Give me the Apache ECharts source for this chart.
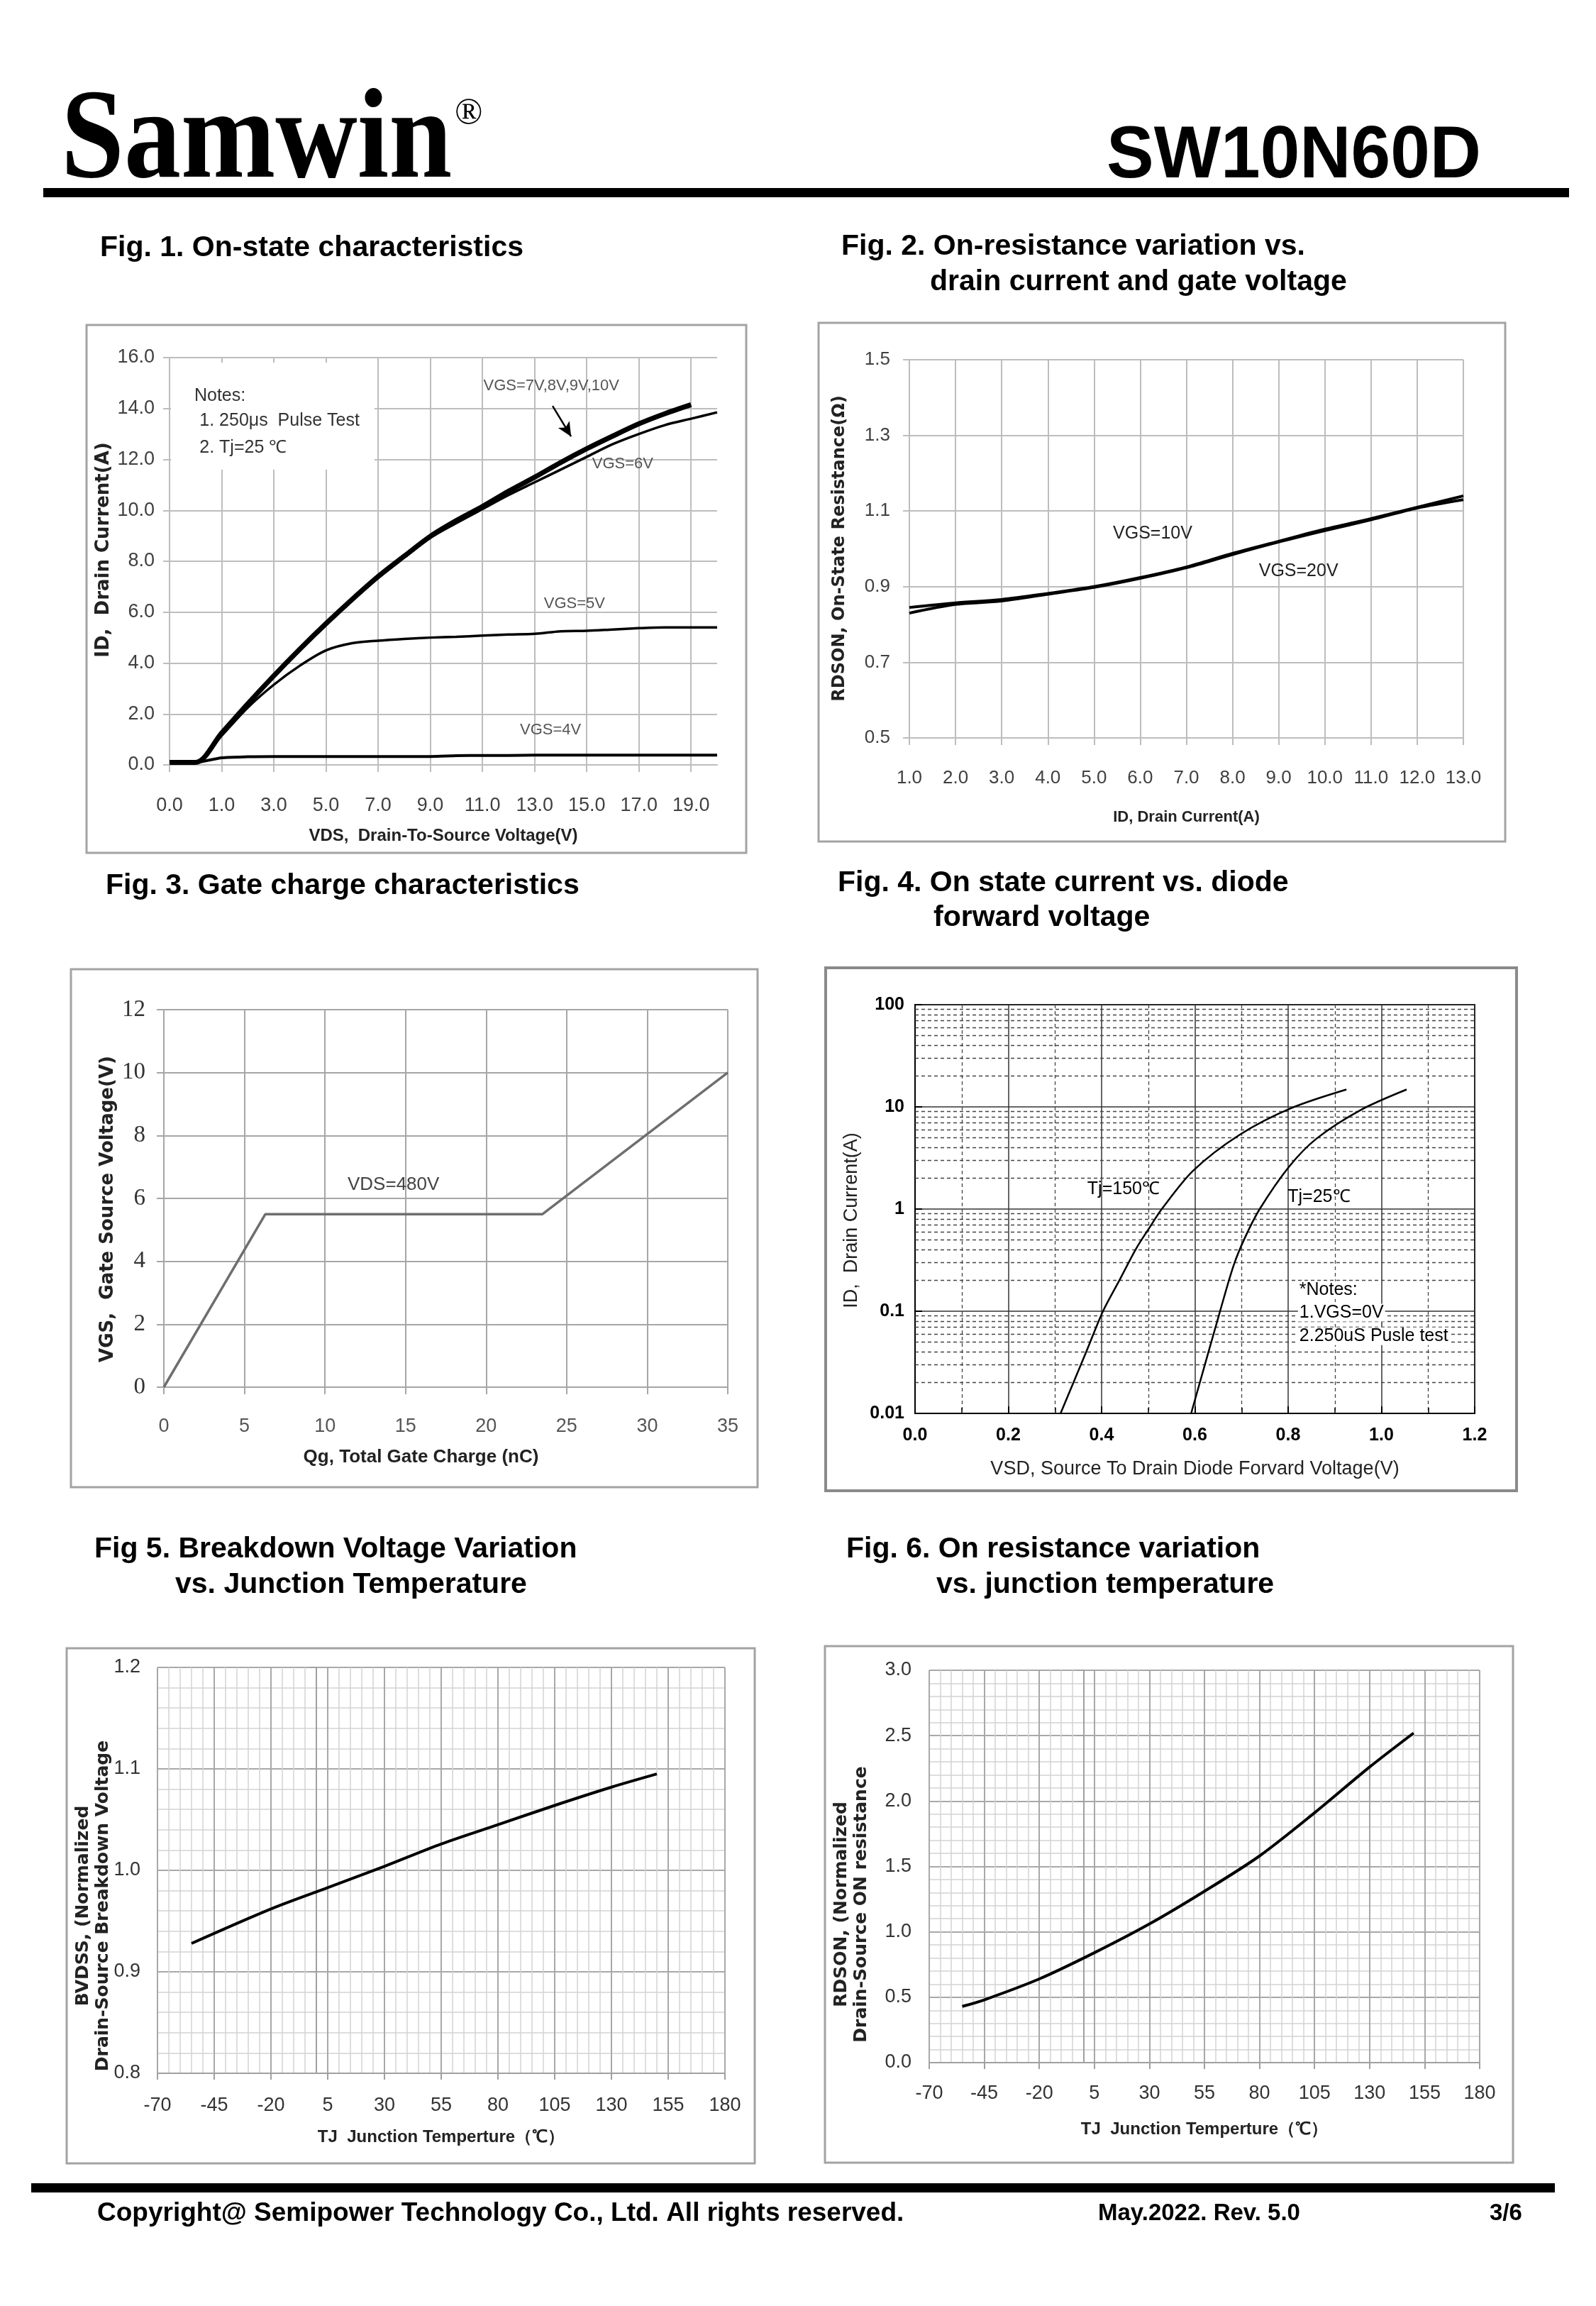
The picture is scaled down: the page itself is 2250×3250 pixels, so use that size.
<!DOCTYPE html>
<html><head><meta charset="utf-8">
<script src="https://cdn.jsdelivr.net/npm/echarts@6/dist/echarts.min.js"></script>
<style>html,body{margin:0;padding:0;background:#fff}#c{width:2250px;height:3250px}</style>
</head><body><div id="c"></div>
<script>
// ---------- DATA ----------
// Fig 1: categories of VDS (Excel-style category axis)
const fig1Vds = ['0.0','0.5','1.0','2.0','3.0','4.0','5.0','6.0','7.0','8.0','9.0','10.0','11.0','12.0','13.0','14.0','15.0','16.0','17.0','18.0','19.0','20.0'];
const fig1IdVgs7to10 = [0.1,0.1,1.25,2.4,3.5,4.55,5.55,6.5,7.4,8.2,8.98,9.6,10.15,10.75,11.3,11.88,12.42,12.92,13.4,13.8,14.15];
const fig1IdVgs6 = [0.1,0.1,1.2,2.35,3.45,4.5,5.5,6.45,7.35,8.15,8.92,9.5,10.05,10.6,11.1,11.6,12.1,12.6,13.0,13.35,13.6,13.85];
const fig1IdVgs5 = [0.1,0.1,1.15,2.25,3.15,3.9,4.5,4.78,4.88,4.95,5.0,5.03,5.08,5.12,5.15,5.25,5.27,5.32,5.37,5.4,5.4,5.4];
const fig1IdVgs4 = [0.1,0.1,0.28,0.32,0.33,0.33,0.33,0.33,0.33,0.33,0.33,0.36,0.37,0.37,0.38,0.38,0.38,0.38,0.38,0.38,0.38,0.38];
const fig1YRange = [0, 16, 2];

// Fig 2
const fig2Id = [1,2,3,4,5,6,7,8,9,10,11,12,13];
const fig2RdsVgs10 = [0.845,0.857,0.866,0.882,0.9,0.924,0.952,0.988,1.02,1.052,1.08,1.11,1.14];
const fig2RdsVgs20 = [0.83,0.853,0.862,0.88,0.898,0.922,0.95,0.985,1.018,1.048,1.077,1.108,1.13];

// Fig 3
const fig3Qg = [0, 6.3, 23.5, 35];
const fig3Vgs = [0, 5.5, 5.5, 10];

// Fig 4
const fig4Vsd150 = [0.312,0.368,0.403,0.438,0.474,0.502,0.529,0.596,0.695,0.806,0.925];
const fig4Id150  = [0.01,0.041,0.1,0.2,0.41,0.65,1.0,2.37,5.3,9.7,14.8];
const fig4Vsd25  = [0.592,0.654,0.683,0.707,0.739,0.802,0.861,0.955,1.054];
const fig4Id25   = [0.01,0.1,0.28,0.52,1.0,2.6,4.9,9.3,14.8];
const fig4MinorY = [0.02,0.03,0.04,0.05,0.06,0.07,0.08,0.09,0.2,0.3,0.4,0.5,0.6,0.7,0.8,0.9,2,3,4,5,6,7,8,9,20,30,40,50,60,70,80,90];

// Fig 5
const fig5Tj = [-55,-20,5,30,55,80,105,130,150];
const fig5Bv = [0.928,0.962,0.983,1.004,1.026,1.045,1.064,1.082,1.095];

// Fig 6
const fig6Tj = [-55,-45,-20,5,30,55,80,105,130,150];
const fig6Rds = [0.43,0.48,0.64,0.84,1.06,1.31,1.58,1.91,2.26,2.52];

// ---------- STYLE ----------
const SANS = '"Liberation Sans", Arial, sans-serif';
const SERIF = '"Liberation Serif", "Times New Roman", serif';
const DEJA = '"DejaVu Sans", Verdana, sans-serif';
const GRID_GRAY = '#bdbdbd';

function pair(xs, ys) { return xs.map((x, i) => [x, ys[i]]); }
function T(x, y, text, font, o) {
  o = o || {};
  const align = o.align || 'left';
  return {
    type: 'text', x: x, y: y, silent: true, z: o.z || 10,
    rotation: o.rotation || 0, scaleX: o.scaleX || 1, scaleY: o.scaleY || 1,
    style: { text: text, font: font, fill: o.fill || '#000',
      align: align, textAlign: align, verticalAlign: 'middle', textVerticalAlign: 'middle',
      lineHeight: o.lineHeight }
  };
}
function R(x, y, w, h, stroke, lw) {
  return { type: 'rect', silent: true, z: 1, shape: { x: x, y: y, width: w, height: h },
    style: { fill: 'none', stroke: stroke, lineWidth: lw } };
}
function B(x, y, w, h) {
  return { type: 'rect', silent: true, z: 1, shape: { x: x, y: y, width: w, height: h }, style: { fill: '#000' } };
}
function label(coord, text, font, color, pos) {
  return { coord: coord, name: text, symbol: 'circle', symbolSize: 0,
    label: { show: true, position: pos || 'inside', distance: 0, formatter: '{b}',
      fontFamily: font.family, fontSize: font.size, fontWeight: font.weight || 'normal', color: color || '#333',
      backgroundColor: font.bg || 'transparent', padding: font.bg ? [0, 2] : 0 } };
}
const VT = (x, y, text, font, fill) => T(x, y, text, font, { align: 'center', rotation: Math.PI / 2, lineHeight: 28, fill: fill || '#222' });

const chart = echarts.init(document.getElementById('c'), null, { renderer: 'canvas', width: 2250, height: 3250 });

const option = {
  backgroundColor: '#fff',
  animation: false,
  grid: [
    { left: 239, top: 504, width: 772, height: 574 },
    { left: 1282, top: 507, width: 781, height: 533 },
    { left: 231, top: 1423, width: 795, height: 532 },
    { left: 1290, top: 1416, width: 789, height: 576, show: true, borderColor: '#000', borderWidth: 2, backgroundColor: 'transparent' },
    { left: 222, top: 2350, width: 800, height: 572 },
    { left: 1310, top: 2354, width: 776, height: 553 }
  ],
  xAxis: [
    { // 0 fig1 category
      type: 'category', gridIndex: 0, data: fig1Vds, boundaryGap: false,
      name: 'VDS,  Drain-To-Source Voltage(V)', nameLocation: 'middle', nameGap: 88,
      nameTextStyle: { fontFamily: SANS, fontSize: 24, color: '#222', fontWeight: 'bold' },
      axisLine: { lineStyle: { color: GRID_GRAY, width: 2 } },
      axisTick: { show: true, interval: 1, length: 10, lineStyle: { color: GRID_GRAY, width: 2 } },
      axisLabel: { interval: 1, fontFamily: SANS, fontSize: 27, color: '#404040', margin: 44 },
      splitLine: { show: true, interval: 1, lineStyle: { color: GRID_GRAY, width: 2 } }
    },
    { // 1 fig1 helper (annotations)
      type: 'value', gridIndex: 0, min: 0, max: 21, show: false, splitLine: { show: false }
    },
    { // 2 fig2
      type: 'value', gridIndex: 1, min: 1, max: 13, interval: 1,
      name: 'ID, Drain Current(A)', nameLocation: 'middle', nameGap: 101,
      nameTextStyle: { fontFamily: SANS, fontSize: 22, color: '#222', fontWeight: 'bold' },
      axisLine: { lineStyle: { color: GRID_GRAY, width: 2 } },
      axisTick: { show: true, length: 10, lineStyle: { color: GRID_GRAY, width: 2 } },
      axisLabel: { formatter: v => v.toFixed(1), fontFamily: SANS, fontSize: 26, color: '#404040', margin: 44 },
      splitLine: { show: true, lineStyle: { color: GRID_GRAY, width: 2 } }
    },
    { // 3 fig3
      type: 'value', gridIndex: 2, min: 0, max: 35, interval: 5,
      name: 'Qg, Total Gate Charge (nC)', nameLocation: 'middle', nameGap: 86,
      nameTextStyle: { fontFamily: SANS, fontSize: 26, color: '#222', fontWeight: 'bold', padding: [0, 70, 0, 0] },
      axisLine: { lineStyle: { color: '#a6a6a6', width: 2 } },
      axisTick: { show: true, length: 10, lineStyle: { color: '#a6a6a6', width: 2 } },
      axisLabel: { fontFamily: SANS, fontSize: 27, color: '#555', margin: 42 },
      splitLine: { show: true, lineStyle: { color: '#a6a6a6', width: 2 } }
    },
    { // 4 fig4
      type: 'value', gridIndex: 3, min: 0, max: 1.2, interval: 0.2,
      name: 'VSD, Source To Drain Diode Forvard Voltage(V)', nameLocation: 'middle', nameGap: 65,
      nameTextStyle: { fontFamily: SANS, fontSize: 27, color: '#222' },
      axisLine: { lineStyle: { color: '#000', width: 2 } },
      axisTick: { show: true, inside: true, length: 10, lineStyle: { color: '#000', width: 2 } },
      minorTick: { show: true, splitNumber: 2, length: 8, lineStyle: { color: '#000', width: 1.5 } },
      axisLabel: { formatter: v => v.toFixed(1), fontFamily: SANS, fontWeight: 'bold', fontSize: 25, color: '#000', margin: 19 },
      splitLine: { show: true, lineStyle: { color: '#333', width: 1.5 } },
      minorSplitLine: { show: true, lineStyle: { color: '#444', width: 1.3, type: [5, 4] } }
    },
    { // 5 fig5
      type: 'value', gridIndex: 4, min: -70, max: 180, interval: 25,
      name: 'TJ  Junction Temperture（℃）', nameLocation: 'middle', nameGap: 78,
      nameTextStyle: { fontFamily: SANS, fontSize: 24, color: '#222', fontWeight: 'bold' },
      axisLine: { lineStyle: { color: '#a0a0a0', width: 2 } },
      axisTick: { show: true, length: 9, lineStyle: { color: '#a0a0a0', width: 2 } },
      minorTick: { show: false, splitNumber: 5 },
      axisLabel: { fontFamily: SANS, fontSize: 27, color: '#333', margin: 32 },
      splitLine: { show: true, lineStyle: { color: '#a8a8a8', width: 2 } },
      minorSplitLine: { show: true, lineStyle: { color: '#d3d3d3', width: 1.5 } }
    },
    { // 6 fig6
      type: 'value', gridIndex: 5, min: -70, max: 180, interval: 25,
      name: 'TJ  Junction Temperture（℃）', nameLocation: 'middle', nameGap: 82,
      nameTextStyle: { fontFamily: SANS, fontSize: 24, color: '#222', fontWeight: 'bold' },
      axisLine: { lineStyle: { color: '#a0a0a0', width: 2 } },
      axisTick: { show: true, length: 9, lineStyle: { color: '#a0a0a0', width: 2 } },
      minorTick: { show: false, splitNumber: 5 },
      axisLabel: { fontFamily: SANS, fontSize: 27, color: '#333', margin: 30 },
      splitLine: { show: true, lineStyle: { color: '#a8a8a8', width: 2 } },
      minorSplitLine: { show: true, lineStyle: { color: '#d3d3d3', width: 1.5 } }
    }
  ],
  yAxis: [
    { // 0 fig1
      type: 'value', gridIndex: 0, min: fig1YRange[0], max: fig1YRange[1], interval: fig1YRange[2],
      axisLine: { show: true, lineStyle: { color: GRID_GRAY, width: 2 } },
      axisTick: { show: true, length: 9, lineStyle: { color: GRID_GRAY, width: 2 } },
      axisLabel: { formatter: v => v.toFixed(1), fontFamily: SANS, fontSize: 27, color: '#404040', margin: 21 },
      splitLine: { show: true, lineStyle: { color: GRID_GRAY, width: 2 } }
    },
    { // 1 fig2
      type: 'value', gridIndex: 1, min: 0.5, max: 1.5, interval: 0.2,
      axisLine: { show: true, lineStyle: { color: GRID_GRAY, width: 2 } },
      axisTick: { show: true, length: 9, lineStyle: { color: GRID_GRAY, width: 2 } },
      axisLabel: { formatter: v => v.toFixed(1), fontFamily: SANS, fontSize: 26, color: '#404040', margin: 27 },
      splitLine: { show: true, lineStyle: { color: GRID_GRAY, width: 2 } }
    },
    { // 2 fig3
      type: 'value', gridIndex: 2, min: 0, max: 12, interval: 2,
      axisLine: { show: true, lineStyle: { color: '#a6a6a6', width: 2 } },
      axisTick: { show: true, length: 10, lineStyle: { color: '#a6a6a6', width: 2 } },
      axisLabel: { fontFamily: SERIF, fontSize: 33, color: '#333', margin: 26 },
      splitLine: { show: true, lineStyle: { color: '#a6a6a6', width: 2 } }
    },
    { // 3 fig4 log
      type: 'log', logBase: 10, gridIndex: 3, min: 0.01, max: 100,
      axisLine: { show: true, lineStyle: { color: '#000', width: 2 } },
      axisTick: { show: true, inside: true, length: 10, lineStyle: { color: '#000', width: 2 } },
      axisLabel: { formatter: v => String(+(+v).toPrecision(2)), fontFamily: SANS, fontWeight: 'bold', fontSize: 25, color: '#000', margin: 15 },
      splitLine: { show: true, lineStyle: { color: '#333', width: 1.5 } }
    },
    { // 4 fig5
      type: 'value', gridIndex: 4, min: 0.8, max: 1.2, interval: 0.1,
      axisLine: { show: true, lineStyle: { color: '#a0a0a0', width: 2 } },
      axisTick: { show: true, length: 9, lineStyle: { color: '#a0a0a0', width: 2 } },
      minorTick: { show: false, splitNumber: 5 },
      axisLabel: { formatter: v => v.toFixed(1), fontFamily: SANS, fontSize: 27, color: '#333', margin: 24 },
      splitLine: { show: true, lineStyle: { color: '#a8a8a8', width: 2 } },
      minorSplitLine: { show: true, lineStyle: { color: '#d3d3d3', width: 1.5 } }
    },
    { // 5 fig6
      type: 'value', gridIndex: 5, min: 0, max: 3, interval: 0.5,
      axisLine: { show: true, lineStyle: { color: '#a0a0a0', width: 2 } },
      axisTick: { show: true, length: 9, lineStyle: { color: '#a0a0a0', width: 2 } },
      minorTick: { show: false, splitNumber: 5 },
      axisLabel: { formatter: v => v.toFixed(1), fontFamily: SANS, fontSize: 27, color: '#333', margin: 25 },
      splitLine: { show: true, lineStyle: { color: '#a8a8a8', width: 2 } },
      minorSplitLine: { show: true, lineStyle: { color: '#d3d3d3', width: 1.5 } }
    }
  ],
  series: [
    // ---- Fig 1 ----
    { name: 'VGS=4V', type: 'line', xAxisIndex: 0, yAxisIndex: 0, data: fig1IdVgs4, smooth: 0.25, symbol: 'none',
      lineStyle: { color: '#000', width: 4 }, z: 5 },
    { name: 'VGS=5V', type: 'line', xAxisIndex: 0, yAxisIndex: 0, data: fig1IdVgs5, smooth: 0.3, symbol: 'none',
      lineStyle: { color: '#000', width: 3.5 }, z: 5 },
    { name: 'VGS=6V', type: 'line', xAxisIndex: 0, yAxisIndex: 0, data: fig1IdVgs6, smooth: 0.3, symbol: 'none',
      lineStyle: { color: '#000', width: 3.5 }, z: 5 },
    { name: 'VGS=7V,8V,9V,10V', type: 'line', xAxisIndex: 0, yAxisIndex: 0, data: fig1IdVgs7to10, smooth: 0.3, symbol: 'none',
      lineStyle: { color: '#000', width: 7 }, z: 6 },
    { name: 'fig1-notes', type: 'line', xAxisIndex: 1, yAxisIndex: 0, data: [], symbol: 'none', z: 3,
      markArea: { silent: true, itemStyle: { color: '#fff' }, data: [[{ coord: [0.06, 15.8] }, { coord: [7.86, 11.6] }]] },
      markLine: { silent: true, symbol: ['none', 'arrow'], symbolSize: [14, 20], label: { show: false },
        lineStyle: { color: '#000', width: 2.5, type: 'solid' },
        data: [[{ coord: [14.69, 14.1] }, { coord: [15.4, 12.9] }]] },
      markPoint: { silent: true, data: [
        label([0.95, 14.49], 'Notes:', { family: SANS, size: 25 }, '#333', 'right'),
        label([1.15, 13.52], '1. 250μs  Pulse Test', { family: SANS, size: 25 }, '#333', 'right'),
        label([1.15, 12.47], '2. Tj=25 ℃', { family: SANS, size: 25 }, '#333', 'right'),
        label([14.64, 14.9], 'VGS=7V,8V,9V,10V', { family: SANS, size: 22 }, '#555'),
        label([17.38, 11.82], 'VGS=6V', { family: SANS, size: 22 }, '#555'),
        label([15.53, 6.33], 'VGS=5V', { family: SANS, size: 22 }, '#555'),
        label([14.61, 1.37], 'VGS=4V', { family: SANS, size: 22 }, '#555')
      ] }
    },
    // ---- Fig 2 ----
    { name: 'VGS=10V', type: 'line', xAxisIndex: 2, yAxisIndex: 1, data: pair(fig2Id, fig2RdsVgs10), smooth: 0.3, symbol: 'none',
      lineStyle: { color: '#000', width: 4 },
      markPoint: { silent: true, data: [
        label([6.27, 1.04], 'VGS=10V', { family: SANS, size: 25 }, '#222'),
        label([9.43, 0.94], 'VGS=20V', { family: SANS, size: 25 }, '#222')
      ] } },
    { name: 'VGS=20V', type: 'line', xAxisIndex: 2, yAxisIndex: 1, data: pair(fig2Id, fig2RdsVgs20), smooth: 0.3, symbol: 'none',
      lineStyle: { color: '#000', width: 4 } },
    // ---- Fig 3 ----
    { name: 'VDS=480V', type: 'line', xAxisIndex: 3, yAxisIndex: 2, data: pair(fig3Qg, fig3Vgs), symbol: 'none',
      lineStyle: { color: '#6e6e6e', width: 3.5 },
      markPoint: { silent: true, data: [ label([14.25, 6.44], 'VDS=480V', { family: SANS, size: 26 }, '#444') ] } },
    // ---- Fig 4 ----
    { name: 'Tj=150℃', type: 'line', xAxisIndex: 4, yAxisIndex: 3, data: pair(fig4Vsd150, fig4Id150), smooth: 0.3, symbol: 'none',
      lineStyle: { color: '#000', width: 2.5 }, z: 6,
      markLine: { silent: true, symbol: ['none', 'none'], label: { show: false },
        lineStyle: { color: '#444', width: 1.3, type: [5, 4] },
        data: fig4MinorY.map(v => ({ yAxis: v })) },
      markPoint: { silent: true, data: [
        label([0.447, 1.55], 'Tj=150℃', { family: SANS, size: 25 }, '#000'),
        label([0.866, 1.31], 'Tj=25℃', { family: SANS, size: 25 }, '#000'),
        label([0.821, 0.161], '*Notes:', { family: SANS, size: 25, bg: '#fff' }, '#000', 'right'),
        label([0.821, 0.097], '1.VGS=0V', { family: SANS, size: 25, bg: '#fff' }, '#000', 'right'),
        label([0.821, 0.057], '2.250uS Pusle test', { family: SANS, size: 25, bg: '#fff' }, '#000', 'right')
      ] } },
    { name: 'Tj=25℃', type: 'line', xAxisIndex: 4, yAxisIndex: 3, data: pair(fig4Vsd25, fig4Id25), smooth: 0.3, symbol: 'none',
      lineStyle: { color: '#000', width: 2.5 }, z: 6 },
    // ---- Fig 5 ----
    { name: 'BVDSS', type: 'line', xAxisIndex: 5, yAxisIndex: 4, data: pair(fig5Tj, fig5Bv), smooth: 0.3, symbol: 'none',
      lineStyle: { color: '#000', width: 4 } },
    // ---- Fig 6 ----
    { name: 'RDSON', type: 'line', xAxisIndex: 6, yAxisIndex: 5, data: pair(fig6Tj, fig6Rds), smooth: 0.3, symbol: 'none',
      lineStyle: { color: '#000', width: 4 } }
  ],
  graphic: { elements: [
    // header
    T(86, 203, 'Samwin', 'bold 160px ' + SERIF, { scaleY: 1.12 }),
    T(641, 160, '®', '52px ' + SERIF),
    T(1560, 221, 'SW10N60D', 'bold 100px ' + SANS, { scaleY: 1.04 }),
    B(61, 265, 2151, 13),
    // titles
    T(141, 350, 'Fig. 1. On-state characteristics', 'bold 41px ' + SANS),
    T(1186, 348, 'Fig. 2. On-resistance variation vs.', 'bold 41px ' + SANS),
    T(1311, 398, 'drain current and gate voltage', 'bold 41px ' + SANS),
    T(149, 1249, 'Fig. 3. Gate charge characteristics', 'bold 41px ' + SANS),
    T(1181, 1245, 'Fig. 4. On state current vs. diode', 'bold 41px ' + SANS),
    T(1316, 1294, 'forward voltage', 'bold 41px ' + SANS),
    T(133, 2184, 'Fig 5. Breakdown Voltage Variation', 'bold 41px ' + SANS),
    T(247, 2234, 'vs. Junction Temperature', 'bold 41px ' + SANS),
    T(1193, 2184, 'Fig. 6. On resistance variation', 'bold 41px ' + SANS),
    T(1320, 2234, 'vs. junction temperature', 'bold 41px ' + SANS),
    // frames
    R(122, 458, 930, 744, '#a3a3a3', 3),
    R(1154, 455, 968, 731, '#a3a3a3', 3),
    R(100, 1366, 968, 730, '#a3a3a3', 3),
    R(1164, 1364, 974, 737, '#8a8a8a', 4),
    R(94, 2323, 970, 726, '#a3a3a3', 3),
    R(1163, 2320, 970, 728, '#a3a3a3', 3),
    // y titles
    VT(146, 775, 'ID,  Drain Current(A)', 'bold 26px ' + DEJA),
    VT(1184, 773, 'RDSON, On-State Resistance(Ω)', 'bold 24px ' + DEJA),
    VT(152, 1704, 'VGS,  Gate Source Voltage(V)', 'bold 26px ' + DEJA),
    VT(1201, 1720, 'ID,  Drain Current(A)', '27px ' + SANS),
    VT(131, 2686, 'BVDSS, (Normalized\nDrain-Source Breakdown Voltage', 'bold 25px ' + DEJA),
    VT(1200, 2684, 'RDSON, (Normalized\nDrain-Source ON resistance', 'bold 25px ' + DEJA),
    // footer
    B(44, 3077, 2148, 13),
    T(137, 3120, 'Copyright@ Semipower Technology Co., Ltd. All rights reserved.', 'bold 37px ' + SANS),
    T(1548, 3120, 'May.2022. Rev. 5.0', 'bold 33px ' + SANS),
    T(2100, 3120, '3/6', 'bold 33px ' + SANS)
  ] }
};
chart.setOption(option);
</script>
</body></html>
